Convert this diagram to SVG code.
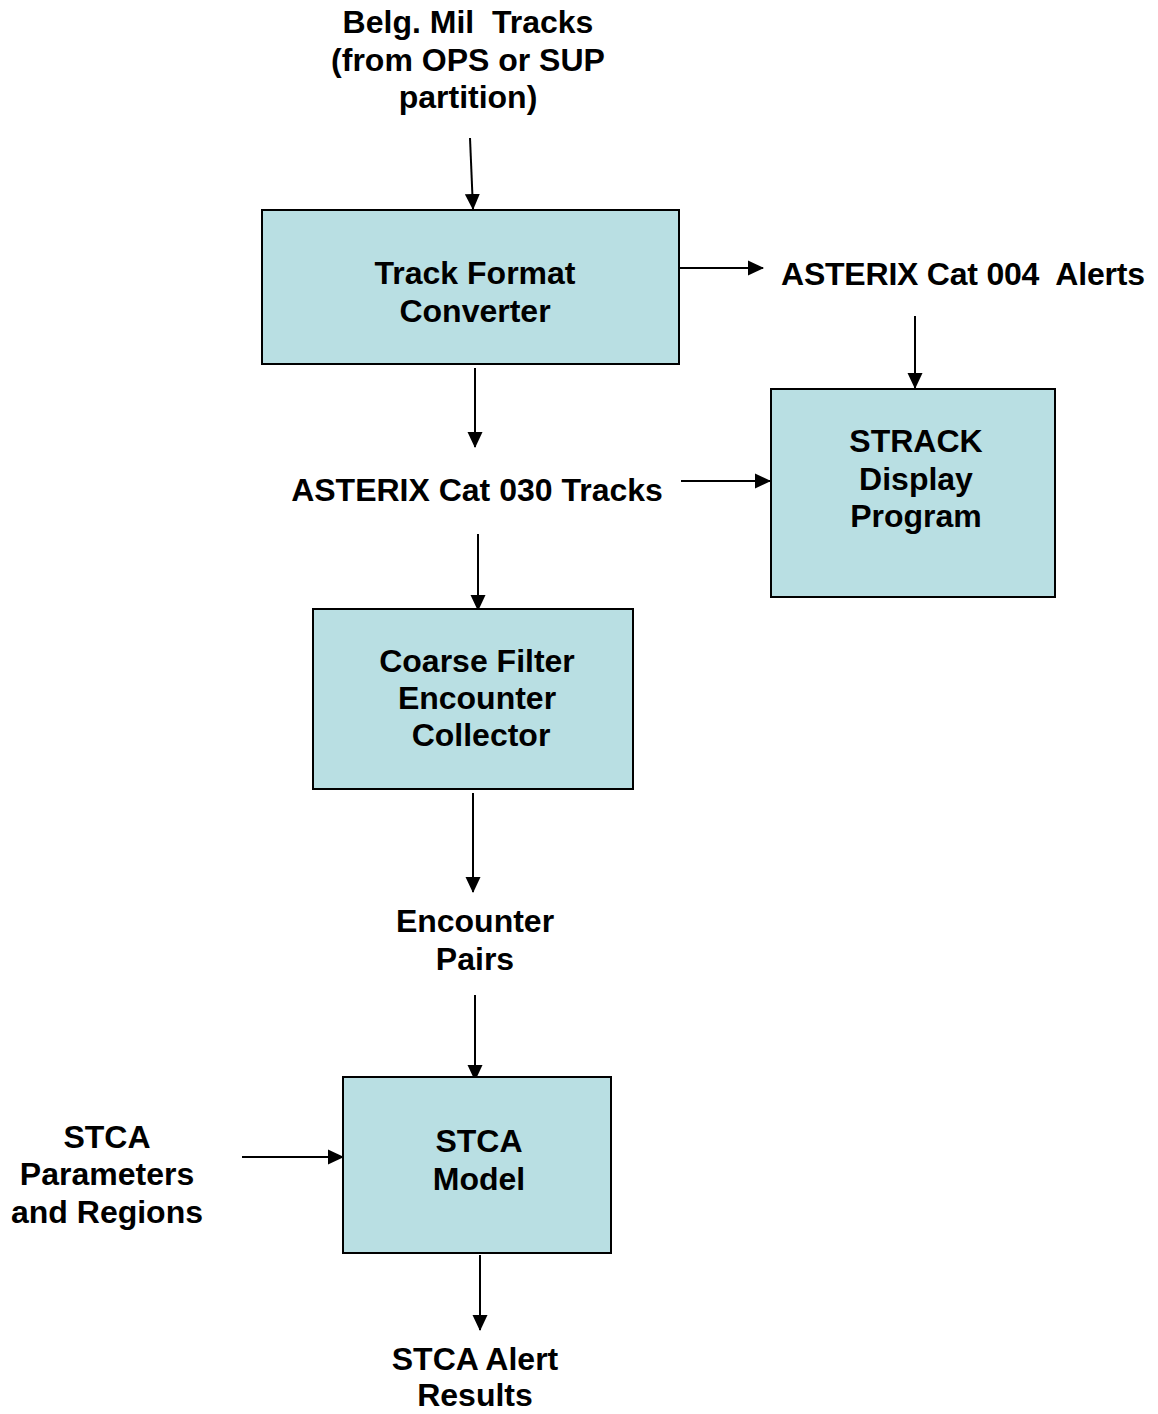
<svg xmlns="http://www.w3.org/2000/svg" width="1158" height="1414" viewBox="0 0 1158 1414">
<style>
.box{fill:#B9DFE3;stroke:#000;stroke-width:2}
.t{font-family:"Liberation Sans",Arial,sans-serif;font-weight:bold;font-size:32px;fill:#000;text-anchor:middle;white-space:pre}
.c{stroke:#000;stroke-width:2;fill:none;marker-end:url(#ah)}
</style>
<defs>
<marker id="ah" markerUnits="userSpaceOnUse" markerWidth="16" markerHeight="16" viewBox="0 0 16 16" refX="15" refY="8" orient="auto">
<path d="M0,0.5 L16,8 L0,15.5 Z" fill="#000"/>
</marker>
</defs>
<rect width="1158" height="1414" fill="#fff"/>
<g id="connectors">
<line class="c" x1="470" y1="138" x2="473" y2="209"/>
<line class="c" x1="675" y1="268" x2="763" y2="268"/>
<line class="c" x1="915" y1="316" x2="915" y2="388"/>
<line class="c" x1="475" y1="368" x2="475" y2="447"/>
<line class="c" x1="681" y1="481" x2="770" y2="481"/>
<line class="c" x1="478" y1="534" x2="478" y2="610"/>
<line class="c" x1="473" y1="793" x2="473" y2="892"/>
<line class="c" x1="475" y1="995" x2="475" y2="1080"/>
<line class="c" x1="242" y1="1157" x2="343" y2="1157"/>
<line class="c" x1="480" y1="1255" x2="480" y2="1330"/>
</g>
<g id="input-label">
<text class="t" x="468" y="33">Belg. Mil  Tracks</text>
<text class="t" x="468" y="71">(from OPS or SUP</text>
<text class="t" x="468" y="108">partition)</text>
</g>
<g id="track-format-converter">
<rect class="box" x="262" y="210" width="417" height="154"/>
<text class="t" x="475" y="284">Track Format</text>
<text class="t" x="475" y="322">Converter</text>
</g>
<g id="cat004-label">
<text class="t" x="781" y="285" style="text-anchor:start" textLength="364" lengthAdjust="spacing">ASTERIX Cat 004  Alerts</text>
</g>
<g id="strack-display">
<rect class="box" x="771" y="389" width="284" height="208"/>
<text class="t" x="916" y="452">STRACK</text>
<text class="t" x="916" y="490">Display</text>
<text class="t" x="916" y="527">Program</text>
</g>
<g id="cat030-label">
<text class="t" x="477" y="501">ASTERIX Cat 030 Tracks</text>
</g>
<g id="coarse-filter">
<rect class="box" x="313" y="609" width="320" height="180"/>
<text class="t" x="477" y="672">Coarse Filter</text>
<text class="t" x="477" y="709">Encounter</text>
<text class="t" x="481" y="746">Collector</text>
</g>
<g id="encounter-pairs">
<text class="t" x="475" y="932">Encounter</text>
<text class="t" x="475" y="970">Pairs</text>
</g>
<g id="stca-params">
<text class="t" x="107" y="1148">STCA</text>
<text class="t" x="107" y="1185">Parameters</text>
<text class="t" x="107" y="1223">and Regions</text>
</g>
<g id="stca-model">
<rect class="box" x="343" y="1077" width="268" height="176"/>
<text class="t" x="479" y="1152">STCA</text>
<text class="t" x="479" y="1190">Model</text>
</g>
<g id="stca-results">
<text class="t" x="475" y="1370">STCA Alert</text>
<text class="t" x="475" y="1406">Results</text>
</g>
</svg>
